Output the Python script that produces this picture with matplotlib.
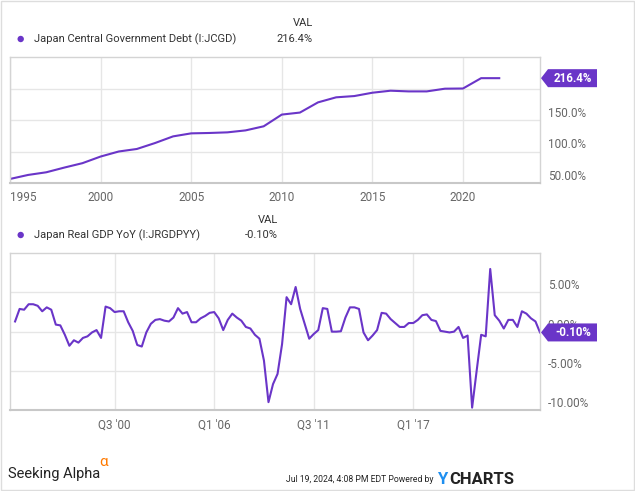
import numpy as np
import pandas as pd
import matplotlib
matplotlib.use("Agg")
import matplotlib.pyplot as plt
from matplotlib.patches import Polygon, Circle, Rectangle
from matplotlib.transforms import IdentityTransform

plt.rcParams['font.family'] = ['Roboto', 'DejaVu Sans']

W, H = 635, 491
purple = "#6a35c8"
grid_c = "#e6e6e6"
tick_c = "#666666"

#%% data

debt_years = list(range(1995, 2023))
debt_pct = [56.4, 62.8, 67.0, 74.5, 81.5, 92.0, 100.0, 104.0, 113.4, 124.0,
            128.8, 129.4, 130.4, 133.5, 140.0, 158.6, 161.8, 178.0, 186.0, 188.0,
            193.3, 196.5, 195.4, 195.4, 199.7, 200.0, 216.4, 216.4]
debt_ticks = [50, 100, 150, 200]
debt_ticklabels = ["50.00%", "100.0%", "150.0%", "200.0%"]
debt_xticks = [1995, 2000, 2005, 2010, 2015, 2020]

gdp_quarters = pd.period_range("1995Q1", "2024Q1", freq="Q")
gdp_yoy = [1.3, 2.9, 2.8, 3.5, 3.5, 3.3, 2.6, 3.1, 2.8, 0.9,
           0.8, -0.4, -1.8, -1.1, -1.4, -0.8, -0.6, -0.1, 0.2, -0.8,
           3.2, 3.0, 2.5, 2.6, 2.6, 1.2, 0.1, -1.7, -1.9, -0.1,
           1.0, 1.5, 1.6, 1.4, 1.3, 1.8, 3.0, 2.3, 2.5, 1.2,
           1.2, 1.7, 2.0, 2.4, 2.5, 1.7, 0.2, 1.5, 2.3, 1.8,
           1.4, 0.6, 0.4, -0.4, -0.9, -3.7, -9.0, -6.7, -5.4, -1.6,
           4.4, 3.5, 5.7, 2.9, 1.0, -0.9, -0.3, 0.2, 3.0, 2.9,
           0.0, 0.0, 0.05, 1.8, 3.1, 3.1, 2.9, -0.1, -1.1, -0.5,
           0.2, 2.4, 2.3, 1.6, 1.1, 0.6, 0.6, 1.1, 1.1, 1.5,
           2.1, 2.2, 1.5, 1.35, 0.1, 0.0, -0.1, 0.0, 0.6, -0.8,
           -0.5, -9.7, -5.0, -0.4, -0.6, 8.0, 2.1, 1.4, 0.4, 1.5,
           1.5, 0.6, 2.6, 2.3, 1.7, 1.3, -0.1]
gdp_ticks = [-10, -5, 0, 5]
gdp_ticklabels = ["-10.00%", "-5.00%", "0.00%", "5.00%"]
gdp_xticks = [2000.5, 2006.0, 2011.5, 2017.0]
gdp_xticklabels = ["Q3 '00", "Q1 '06", "Q3 '11", "Q1 '17"]

gdp_t = np.array([q.year + (q.quarter - 1) / 4 for q in gdp_quarters])

#%% figure

fig = plt.figure(figsize=(W / 100, H / 100), dpi=100)
fig.patch.set_facecolor("white")


def rect(l, t, r, b):
    return [l / W, 1 - b / H, (r - l) / W, (b - t) / H]


def style_axes(ax):
    for s in ax.spines.values():
        s.set_color("#d4d4d4")
        s.set_linewidth(1)
    ax.spines["bottom"].set_color("#c8c8c8")
    ax.spines["bottom"].set_linewidth(1.5)
    ax.grid(True, color=grid_c, linewidth=1.0)
    ax.set_axisbelow(True)
    ax.yaxis.tick_right()
    ax.tick_params(length=0, colors=tick_c, labelsize=8.5)
    ax.tick_params(axis="y", pad=5.5)
    ax.tick_params(axis="x", pad=6)
    for lab in ax.get_yticklabels():
        lab.set_verticalalignment("bottom")


def add_tag(ax, xval, yval, label):
    x0, y0 = ax.transData.transform((xval, yval))
    x0 = ax.transAxes.transform((1, 0))[0] + 1
    hh = 9
    pts = [(x0, y0), (x0 + 7, y0 + hh), (x0 + 56, y0 + hh),
           (x0 + 56, y0 - hh), (x0 + 7, y0 - hh)]
    fig.add_artist(Polygon(pts, closed=True, facecolor=purple, edgecolor="none",
                           transform=IdentityTransform(), zorder=10))
    fig.text(x0 + 32, y0, label, transform=IdentityTransform(), color="white",
             fontsize=8.3, fontweight="bold", ha="center", va="center", zorder=11)


def add_legend(y_head, y_row, x_right, name, val):
    fig.add_artist(Circle((20.7, H - y_row), 3.2, facecolor=purple, edgecolor="none",
                          transform=IdentityTransform()))
    fig.text(34, H - y_row, name, transform=IdentityTransform(), color="#333333",
             fontsize=8, ha="left", va="center")
    fig.text(x_right, H - y_head, "VAL", transform=IdentityTransform(), color="#333333",
             fontsize=8, ha="right", va="center")
    fig.text(x_right, H - y_row, val, transform=IdentityTransform(), color="#333333",
             fontsize=8, ha="right", va="center")


#%% top: government debt

ax1 = fig.add_axes(rect(10, 57, 540, 183))
ax1.plot(debt_years, debt_pct, color=purple, linewidth=1.5, solid_joinstyle="round")
ax1.set_xlim(1995, 2024.25)
ax1.set_ylim(50, 250)
ax1.set_yticks(debt_ticks)
ax1.set_yticklabels(debt_ticklabels)
ax1.set_xticks(debt_xticks)
ax1.set_xticklabels([str(y) for y in debt_xticks])
style_axes(ax1)
ax1.get_xticklabels()[0].set_horizontalalignment("left")

add_legend(23, 39, 313, "Japan Central Government Debt (I:JCGD)", "216.4%")

#%% bottom: real GDP yoy

ax2 = fig.add_axes(rect(10, 253.3, 540, 410))
ax2.plot(gdp_t, gdp_yoy, color=purple, linewidth=1.5, solid_joinstyle="round")
ax2.set_xlim(1994.72, gdp_t[-1])
ax2.set_ylim(-10, 10)
ax2.set_yticks(gdp_ticks)
ax2.set_yticklabels(gdp_ticklabels)
ax2.set_xticks(gdp_xticks)
ax2.set_xticklabels(gdp_xticklabels)
style_axes(ax2)

add_legend(220, 235, 278, "Japan Real GDP YoY (I:JRGDPYY)", "-0.10%")

add_tag(ax1, debt_years[-1], debt_pct[-1], "216.4%")
add_tag(ax2, gdp_t[-1], gdp_yoy[-1], "-0.10%")

#%% footer

fig.text(8, H - 474, "Seeking Alpha", transform=IdentityTransform(), color="#222222",
         fontsize=10.5, ha="left", va="center")
fig.text(99, H - 462, "\u03b1", transform=IdentityTransform(), color="#ff7a00",
         fontsize=11, ha="left", va="center")
fig.text(434, H - 479, "Jul 19, 2024, 4:08 PM EDT Powered by", transform=IdentityTransform(),
         color="#222222", fontsize=6.2, ha="right", va="center")
fig.text(437, H - 479, "Y", transform=IdentityTransform(), color="#1e8ff0",
         fontsize=12, fontweight="bold", ha="left", va="center")
fig.text(449, H - 479, "CHARTS", transform=IdentityTransform(), color="#222222",
         fontsize=12, fontweight="bold", ha="left", va="center")

fig.add_artist(Rectangle((0.5, 1.5), 633, 489, fill=False, edgecolor="#dddddd",
                         linewidth=1, transform=IdentityTransform()))

fig.savefig("out.png", dpi=100, facecolor="white")
